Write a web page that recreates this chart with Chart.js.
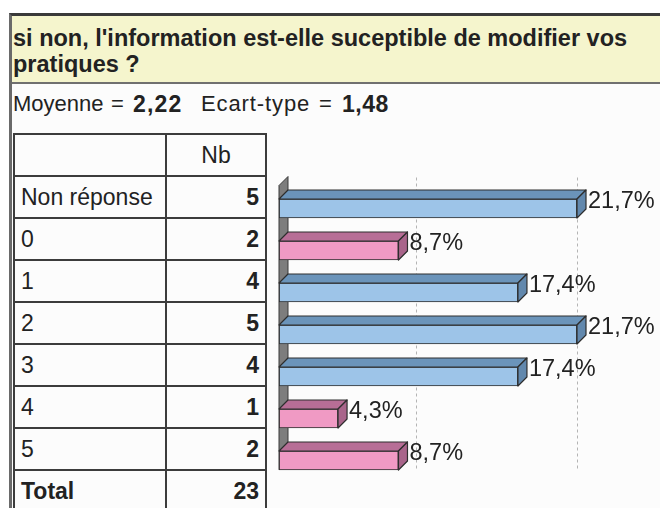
<!DOCTYPE html>
<html>
<head>
<meta charset="utf-8">
<script src="https://cdn.jsdelivr.net/npm/chart.js@4/dist/chart.umd.min.js"></script>
<style>
  html,body{margin:0;padding:0;background:#fff;width:660px;height:508px;overflow:hidden;}
  body{position:relative;font-family:"Liberation Sans",Arial,sans-serif;color:#222;}
  #frame{position:absolute;left:9px;top:13px;width:660px;height:510px;border-top:3px solid #3a3a3a;border-left:3px solid #6a6a6a;background:#fcfcfc;box-sizing:border-box;}
  #title{position:absolute;left:12px;top:16px;width:648px;height:66px;background:#f5f5cd;border-bottom:2px solid #707070;}
  #title div{position:absolute;left:1px;font-weight:bold;font-size:23.5px;line-height:26px;white-space:nowrap;}
  .st{position:absolute;top:92px;font-size:22px;line-height:24px;white-space:nowrap;}
  .st.b{font-weight:bold;font-size:23px;}
  table{position:absolute;left:13px;top:133px;border-collapse:collapse;font-size:23px;}
  td{border:2px solid #3c3c3c;height:42px;padding:0;box-sizing:border-box;}
  td.c1{width:152px;padding-left:6px;text-align:left;}
  td.c2{width:100px;padding-right:6px;text-align:right;font-weight:bold;}
  tr.head td.c2{text-align:center;font-weight:normal;padding-right:0;}
  tr.tot td{font-weight:bold;}
  #cv{position:absolute;left:0;top:0;}
</style>
</head>
<body>
<div id="frame"></div>
<div id="title"><div style="top:9px">si non, l'information est-elle suceptible de modifier vos</div><div style="top:35px">pratiques ?</div></div>
<div id="stats"></div>
<table id="tbl"></table>
<div id="cv" style="width:660px;height:508px;"><canvas id="chart"></canvas></div>
<script>
const categories = ['Non réponse', '0', '1', '2', '3', '4', '5'];
const counts = [5, 2, 4, 5, 4, 1, 2];
const percents = [21.7, 8.7, 17.4, 21.7, 17.4, 4.3, 8.7];
const total = 23;
const meanValue = '2,22';
const stdValue = '1,48';
const gridValues = [10, 21.7];

document.getElementById('stats').innerHTML =
  '<span class="st" style="left:13px">Moyenne</span>' +
  '<span class="st" style="left:111px">=</span>' +
  '<span class="st b" style="left:133px;letter-spacing:1.2px">' + meanValue + '</span>' +
  '<span class="st" style="left:201px;letter-spacing:0.9px">Ecart-type</span>' +
  '<span class="st" style="left:319px">=</span>' +
  '<span class="st b" style="left:342px;letter-spacing:0.5px">' + stdValue + '</span>';

let html = '<tr class="head"><td class="c1"></td><td class="c2">Nb</td></tr>';
categories.forEach((c, i) => {
  html += '<tr><td class="c1">' + c + '</td><td class="c2">' + counts[i] + '</td></tr>';
});
html += '<tr class="tot"><td class="c1">Total</td><td class="c2">' + total + '</td></tr>';
document.getElementById('tbl').innerHTML = html;

const avgPct = 100 / categories.length;
const D = 9;
const palette = {
  blue: {front: '#9dc4e8', top: '#6b94ba', side: '#6288ad'},
  pink: {front: '#f09ac4', top: '#b76e96', side: '#a9658b'}
};
function pal(v) { return v > avgPct ? palette.blue : palette.pink; }

const threeD = {
  id: 'threeD',
  beforeDatasetsDraw(chart) {
    const ctx = chart.ctx, a = chart.chartArea, xs = chart.scales.x;
    ctx.save();
    ctx.strokeStyle = '#b4b4b4';
    ctx.lineWidth = 1;
    ctx.setLineDash([3, 3]);
    gridValues.forEach(v => {
      const x = Math.round(xs.getPixelForValue(v)) + 0.5;
      ctx.beginPath();
      ctx.moveTo(x, a.top - D - 1);
      ctx.lineTo(x, a.bottom - D - 2);
      ctx.stroke();
    });
    ctx.setLineDash([]);
    const x0 = xs.getPixelForValue(0);
    ctx.fillStyle = '#7d7d7d';
    ctx.strokeStyle = '#3a3a3a';
    ctx.beginPath();
    ctx.moveTo(x0, a.top - 2);
    ctx.lineTo(x0 + D, a.top - 2 - D);
    ctx.lineTo(x0 + D, a.bottom - 12 - D);
    ctx.lineTo(x0, a.bottom - 12);
    ctx.closePath();
    ctx.fill();
    ctx.stroke();
    ctx.restore();
  },
  afterDatasetsDraw(chart) {
    const ctx = chart.ctx;
    const meta = chart.getDatasetMeta(0);
    ctx.save();
    ctx.lineWidth = 1.2;
    ctx.strokeStyle = '#2e2e2e';
    ctx.lineJoin = 'round';
    meta.data.forEach((bar, i) => {
      const p = pal(percents[i]);
      const t = bar.y - bar.height / 2, b = bar.y + bar.height / 2;
      const x1 = bar.x, x0 = bar.base;
      ctx.fillStyle = p.top;
      ctx.beginPath();
      ctx.moveTo(x0, t); ctx.lineTo(x0 + D, t - D); ctx.lineTo(x1 + D, t - D); ctx.lineTo(x1, t);
      ctx.closePath(); ctx.fill(); ctx.stroke();
      ctx.fillStyle = p.side;
      ctx.beginPath();
      ctx.moveTo(x1, t); ctx.lineTo(x1 + D, t - D); ctx.lineTo(x1 + D, b - D); ctx.lineTo(x1, b);
      ctx.closePath(); ctx.fill(); ctx.stroke();
      ctx.fillStyle = '#222';
      ctx.font = '23.5px "Liberation Sans", Arial, sans-serif';
      ctx.textBaseline = 'middle';
      ctx.textAlign = 'left';
      ctx.fillText(percents[i].toFixed(1).replace('.', ',') + '%', x1 + D + 2, bar.y - 7);
    });
    ctx.restore();
  }
};

new Chart(document.getElementById('chart'), {
  type: 'bar',
  data: {
    labels: categories,
    datasets: [{
      data: percents,
      backgroundColor: c => pal(c.raw).front,
      borderColor: '#2e2e2e',
      borderWidth: 1.2,
      borderSkipped: false,
      barThickness: 19
    }]
  },
  options: {
    indexAxis: 'y',
    responsive: true,
    maintainAspectRatio: false,
    animation: false,
    layout: {padding: {left: 279, right: 83, top: 187.5, bottom: 26.5}},
    plugins: {legend: {display: false}, tooltip: {enabled: false}},
    scales: {
      x: {display: false, min: 0, max: 21.7},
      y: {display: false}
    }
  },
  plugins: [threeD]
});
</script>
</body>
</html>
